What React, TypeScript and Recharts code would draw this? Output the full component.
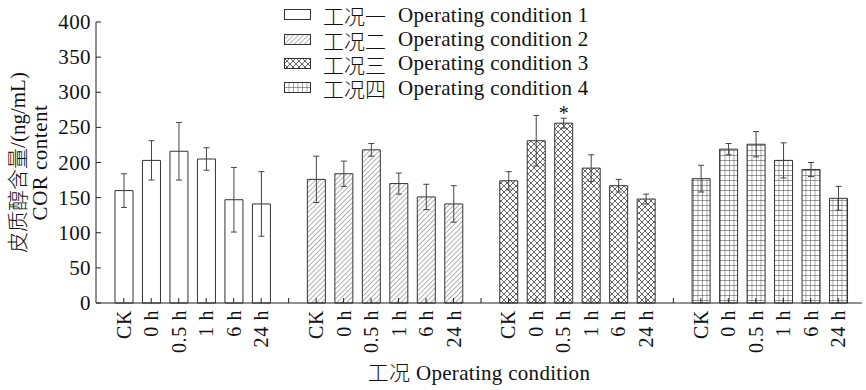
import { BarChart, Bar, XAxis, YAxis, ErrorBar, Cell, Legend, LabelList } from 'recharts';

const timePoints = ['CK', '0 h', '0.5 h', '1 h', '6 h', '24 h'];
const conditionNames = ['工况一', '工况二', '工况三', '工况四'];
const conditionNamesEn = ['Operating condition 1', 'Operating condition 2', 'Operating condition 3', 'Operating condition 4'];

// 皮质醇含量 (ng/mL), mean and SD per condition
const cond1Values = [160, 203, 216, 205, 147, 141];
const cond1Errors = [24, 28, 41, 16, 46, 46];
const cond2Values = [176, 184, 218, 170, 151, 141];
const cond2Errors = [33, 18, 9, 15, 18, 26];
const cond3Values = [174, 231, 256, 192, 167, 148];
const cond3Errors = [13, 36, 7, 19, 9, 7];
const cond4Values = [177, 219, 226, 203, 190, 149];
const cond4Errors = [19, 8, 18, 25, 10, 17];
// significance marks ('*' vs CK)
const cond3Marks = ['', '', '*', '', '', ''];

const yTicks = [0, 50, 100, 150, 200, 250, 300, 350, 400];

const FONT = "'Liberation Serif', 'Times New Roman', 'Noto Sans CJK SC', serif";
const fills = ['#ffffff', 'url(#hatch)', 'url(#cross)', 'url(#grid)'];

const allValues = [cond1Values, cond2Values, cond3Values, cond4Values];
const allErrors = [cond1Errors, cond2Errors, cond3Errors, cond4Errors];
const allMarks = [[], [], cond3Marks, []];

// 6 bars per condition, one empty slot between conditions
const chartData: any[] = [];
allValues.forEach((vals, g) => {
  vals.forEach((v, t) => {
    chartData.push({
      key: `g${g}-${t}`,
      label: timePoints[t],
      value: v,
      err: allErrors[g][t],
      mark: allMarks[g][t] || undefined,
      group: g,
    });
  });
  if (g < allValues.length - 1) {
    chartData.push({ key: `gap${g}`, label: '', value: null, err: 0, group: -1 });
  }
});

const XTick = (props: any) => {
  const { x, y, index } = props;
  const label = chartData[index] ? chartData[index].label : '';
  return (
    <g>
      <line x1={x} y1={y} x2={x} y2={y - 5} stroke="#222" strokeWidth={1} />
      {label && (
        <text
          transform={`translate(${x},${y + 7}) rotate(-90)`}
          textAnchor="end"
          dominantBaseline="central"
          fontFamily={FONT}
          fontSize={20}
          letterSpacing={0.6}
          fill="#111"
        >
          {label}
        </text>
      )}
    </g>
  );
};

const YTick = (props: any) => {
  const { x, y, payload } = props;
  return (
    <g>
      <line x1={x} y1={y} x2={x + 5} y2={y} stroke="#222" strokeWidth={1} />
      <text x={x - 5} y={y} textAnchor="end" dominantBaseline="central" fontFamily={FONT} fontSize={21} letterSpacing={0.4} fill="#111">
        {payload.value}
      </text>
    </g>
  );
};

const YTitle = (props: any) => {
  const { viewBox } = props;
  const cy = viewBox.y + viewBox.height / 2;
  return (
    <g fontFamily={FONT} fontSize={21} fill="#111">
      <text transform={`translate(18,${cy}) rotate(-90)`} textAnchor="middle" dominantBaseline="central">
        <tspan fontWeight={300}>皮质醇含量</tspan>/(ng/mL)
      </text>
      <text transform={`translate(40,${cy}) rotate(-90)`} textAnchor="middle" dominantBaseline="central" letterSpacing={0.5}>
        COR content
      </text>
    </g>
  );
};

const XTitle = (props: any) => {
  const { viewBox } = props;
  const cx = viewBox.x + viewBox.width / 2;
  return (
    <text x={cx} y={373} textAnchor="middle" dominantBaseline="central" fontFamily={FONT} fontSize={21} letterSpacing={0.3} fill="#111">
      <tspan fontWeight={300}>工况</tspan> Operating condition
    </text>
  );
};

const renderLegend = () => (
  <div style={{ fontFamily: FONT, fontSize: 21, color: '#111' }}>
    {conditionNames.map((name, i) => (
      <div key={name} style={{ display: 'flex', alignItems: 'center', height: 24.4, whiteSpace: 'nowrap' }}>
        <svg width={28} height={12} style={{ marginRight: 11 }}>
          <rect x={0.5} y={0.5} width={26} height={10} fill={fills[i]} stroke="#333" strokeWidth={1} />
        </svg>
        <span style={{ marginRight: 12, fontWeight: 300 }}>{name}</span>
        <span style={{ letterSpacing: 0.3 }}>{conditionNamesEn[i]}</span>
      </div>
    ))}
  </div>
);

export default function App() {
  return (
    <div style={{ position: 'absolute', left: 0, top: 0, background: '#fff' }}>
      <BarChart
        width={866}
        height={390}
        data={chartData}
        margin={{ top: 22, right: 4, left: 36, bottom: 27 }}
        barSize={18}
      >
        <defs>
          <pattern id="hatch" patternUnits="userSpaceOnUse" width={3.5} height={3.5} patternTransform="rotate(45)">
            <rect width={3.5} height={3.5} fill="#fff" />
            <line x1={0} y1={0} x2={0} y2={3.5} stroke="#666" strokeWidth={1} />
          </pattern>
          <pattern id="cross" patternUnits="userSpaceOnUse" width={6} height={6}>
            <rect width={6} height={6} fill="#fff" />
            <path d="M0,0 L6,6 M6,0 L0,6" stroke="#555" strokeWidth={0.9} />
          </pattern>
          <pattern id="grid" patternUnits="userSpaceOnUse" width={4.5} height={5}>
            <rect width={4.5} height={5} fill="#fff" />
            <path d="M0,0 L4.5,0 M0,0 L0,5" stroke="#333" strokeWidth={0.9} />
          </pattern>
        </defs>
        <XAxis
          dataKey="key"
          type="category"
          interval={0}
          tick={<XTick />}
          tickLine={false}
          tickSize={0}
          tickMargin={0}
          height={60}
          padding={{ left: 14, right: 10 }}
          axisLine={{ stroke: '#222', strokeWidth: 1 }}
          label={{ content: XTitle }}
        />
        <YAxis
          type="number"
          domain={[0, 400]}
          ticks={yTicks}
          interval={0}
          width={60}
          tick={<YTick />}
          tickLine={false}
          tickSize={0}
          tickMargin={0}
          axisLine={{ stroke: '#222', strokeWidth: 1 }}
          label={{ content: YTitle }}
        />
        <Legend
          content={renderLegend}
          layout="horizontal"
          verticalAlign="middle"
          align="center"
          wrapperStyle={{ position: 'absolute', left: 284, top: 3, width: 320 }}
        />
        <Bar dataKey="value" stroke="#333" strokeWidth={1} isAnimationActive={false}>
          {chartData.map((d) => (
            <Cell key={d.key} fill={d.group >= 0 ? fills[d.group] : 'none'} stroke={d.group >= 0 ? '#333' : 'none'} />
          ))}
          <ErrorBar dataKey="err" width={3} stroke="#444" strokeWidth={1} direction="y" isAnimationActive={false} />
          <LabelList dataKey="mark" position="top" offset={3} fontFamily={FONT} fontSize={20} fill="#111" />
        </Bar>
      </BarChart>
    </div>
  );
}
